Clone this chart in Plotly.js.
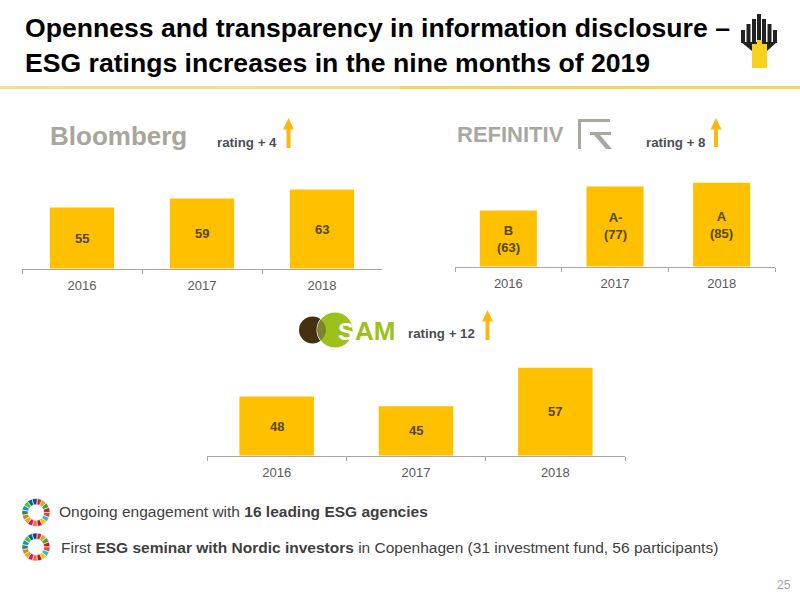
<!DOCTYPE html>
<html>
<head>
<meta charset="utf-8">
<script src="https://cdn.plot.ly/plotly-3.0.1.min.js"></script>
<style>html,body{margin:0;padding:0;background:#fff}#c{width:800px;height:600px}</style>
</head>
<body>
<div id="c"></div>
<script>
const years = ['2016', '2017', '2018'];
const bloombergValues = [55, 59, 63];
const refinitivValues = [63, 82, 85];
const refinitivLabels = ['B<br>(63)', 'A-<br>(77)', 'A<br>(85)'];
const samValues = [48, 45, 57];
const sdgColors = ['#E5243B','#DDA63A','#4C9F38','#C5192D','#FF3A21','#26BDE2','#FCC30B','#A21942','#FD6925','#DD1367','#FD9D24','#BF8B2E','#3F7E44','#0A97D9','#56C02B','#00689D','#19486A'];
const sdgShares = [1,1,1,1,1,1,1,1,1,1,1,1,1,1,1,1,1];

const FONT = '"Liberation Sans", Arial, sans-serif';
const px = x => x / 800, py = y => 1 - y / 600;
const rangeB = [27.9, 27.9 + 98.5 / 2.25], rangeR = [19, 19 + 96.5 / 1.27], rangeS = [29.6, 29.6 + 105.5 / 3.2];

function barTrace(vals, xa, ya) {
  return {type:'bar', x:years, y:vals, xaxis:xa, yaxis:ya, marker:{color:'#FFC000', line:{width:0}},
    textposition:'none', cliponaxis:true, hoverinfo:'skip', showlegend:false};
}
function wheel(cx, cy, r) {
  return {type:'pie', values:sdgShares, sort:false, direction:'clockwise', rotation:5, hole:0.56,
    marker:{colors:sdgColors, line:{color:'#ffffff', width:0.6}}, textinfo:'none', hoverinfo:'skip', showlegend:false,
    domain:{x:[px(cx-r), px(cx+r)], y:[py(cy+r), py(cy-r)]}};
}
const data = [
  barTrace(bloombergValues, 'x', 'y'),
  barTrace(refinitivValues, 'x2', 'y2'),
  barTrace(samValues, 'x3', 'y3'),
  wheel(36, 512.5, 14), wheel(36, 547, 14)
];
function xAxis(l, r, anchor, standoff) {
  return {domain:[px(l), px(r)], anchor:anchor, type:'category', categoryorder:'array', categoryarray:years, range:[-0.5, 2.5], autorange:false,
    tickson:'boundaries', ticks:'outside', ticklen:4, tickwidth:1, tickangle:0,
    tickcolor:'#a6a6a6', showline:true, linecolor:'#a6a6a6', linewidth:1, showgrid:false, zeroline:false, ticklabelstandoff:standoff,
    tickfont:{family:FONT, size:13, color:'#595959'}, fixedrange:true};
}
function yAxis(top, bottom, range, anchor) {
  return {domain:[py(bottom), py(top)], range:range, anchor:anchor, visible:false, showgrid:false, zeroline:false, fixedrange:true};
}
function txt(text, x, y, size, color, opts) {
  return Object.assign({text:text, x:px(x), y:py(y), xref:'paper', yref:'paper', xanchor:'left', yanchor:'middle', showarrow:false,
    font:{family:FONT, size:size, color:color}}, opts || {});
}
function barLabels(vals, labels, range, xa, ya) {
  return vals.map((v, i) => ({text:'<b>' + labels[i] + '</b>', x:i, y:(v + range[0]) / 2, xref:xa, yref:ya,
    xanchor:'center', yanchor:'middle', showarrow:false, font:{family:FONT, size:13, color:'#53471a'}}));
}
function P(points) {
  return 'M' + points.map(p => px(p[0]) + ',' + py(p[1])).join(' L') + ' Z';
}
function poly(points, color) {
  return {type:'path', xref:'paper', yref:'paper', line:{width:0}, fillcolor:color, path:P(points)};
}
function arrow(x, top, bottom) {
  return poly([[x-2,bottom],[x-2,top+11.5],[x-5.5,top+11.5],[x,top],[x+5.5,top+11.5],[x+2,top+11.5],[x+2,bottom]], '#FFB612');
}
function rect(x0,y0,x1,y1,color) {
  return {type:'rect', xref:'paper', yref:'paper', x0:px(x0), x1:px(x1), y0:py(y1), y1:py(y0), fillcolor:color, line:{width:0}};
}
function circle(cx,cy,r,color,lw) {
  return {type:'circle', xref:'paper', yref:'paper', x0:px(cx-r), x1:px(cx+r), y0:py(cy+r), y1:py(cy-r), fillcolor:color, line:{width:lw||0, color:'#ffffff'}};
}
const GREY = '#a8a8a0', DARK = '#222222', GOLD = '#F6D21E';
const shapes = [
  rect(0,86,400,89,'#F8DD90'), rect(400,86,800,89,'#F4D35E'),
  arrow(288.5,118,148), arrow(716,118,147), arrow(487.5,310,340),
  // Refinitiv mark
  rect(578,119,610,122,GREY), rect(578,119,581,149,GREY),
  rect(590,132,611,135,GREY),
  poly([[594,135],[600,135],[612,149],[606,149]], GREY),
  // SAM mark
  circle(312.5,330,13.5,'#43300f'), circle(335,330,18,'#9CC11B',1),
  {type:'path', xref:'paper', yref:'paper', line:{width:0}, fillcolor:'#7c8430',
    path:'M'+px(320.6)+','+py(319.2)+' Q'+px(313.4)+','+py(330)+' '+px(320.6)+','+py(340.8)+' Q'+px(331.4)+','+py(330)+' '+px(320.6)+','+py(319.2)+' Z'},
  // Rosneft mark
  rect(741,30,745,43,DARK), rect(746.5,24,750.5,46,DARK), rect(752,19,756,46,DARK), rect(757,14,761,44,DARK), rect(762,19,766,46,DARK), rect(767.5,24,771.5,46,DARK), rect(773,30,777,43,DARK),
  poly([[741,42],[752,51],[767,51],[777,42]], DARK),
  rect(752,44,767,68,GOLD), rect(757,40,762,46,GOLD)
];
const annotations = [
  txt('<b>Bloomberg</b>', 48, 135.5, 26, '#a8a59c'),
  txt('<b>REFINITIV</b>', 455, 134.5, 22, GREY),
  txt('<b>S</b>', 335.5, 331, 24, '#ffffff'),
  txt('<b>AM</b>', 353, 331, 26, '#9CC11B'),
  txt('<b>rating + 4</b>', 215.5, 142, 13.3, '#4a4f55'),
  txt('<b>rating + 8</b>', 643.5, 142, 13.3, '#4a4f55'),
  txt('<b>rating + 12</b>', 405.5, 333.5, 13.3, '#4a4f55'),
  txt('Ongoing engagement with <b>16 leading ESG agencies</b>', 57, 511.5, 15.5, '#404040'),
  txt('First <b>ESG seminar with Nordic investors</b> in Copenhagen (31 investment fund, 56 participants)', 59, 547.5, 15.5, '#404040'),
  txt('25', 793, 585, 12, '#a6a6a6', {xanchor:'right'})
].concat(
  barLabels(bloombergValues, bloombergValues, rangeB, 'x', 'y'),
  barLabels(refinitivValues, refinitivLabels, rangeR, 'x2', 'y2'),
  barLabels(samValues, samValues, rangeS, 'x3', 'y3')
);
const layout = {
  width:800, height:600, margin:{l:0,r:0,t:0,b:0,pad:0}, paper_bgcolor:'#fff', plot_bgcolor:'rgba(0,0,0,0)', bargap:0.465, showlegend:false,
  title:{text:'<b>Openness and transparency in information disclosure –<br>ESG ratings increases in the nine months of 2019</b>',
    x:px(25), xanchor:'left', xref:'paper', y:py(37), yanchor:'top', yref:'paper', font:{family:FONT, size:26.6, color:'#000000'}},
  xaxis:xAxis(22,382,'y',5), yaxis:yAxis(170,268.5,rangeB,'x'),
  xaxis2:xAxis(455,775,'y2',5), yaxis2:yAxis(170,266.5,rangeR,'x2'),
  xaxis3:xAxis(207,625,'y3',5), yaxis3:yAxis(350,455.5,rangeS,'x3'),
  shapes:shapes, annotations:annotations
};
Plotly.newPlot('c', data, layout, {displayModeBar:false, staticPlot:true});
</script>
</body>
</html>
